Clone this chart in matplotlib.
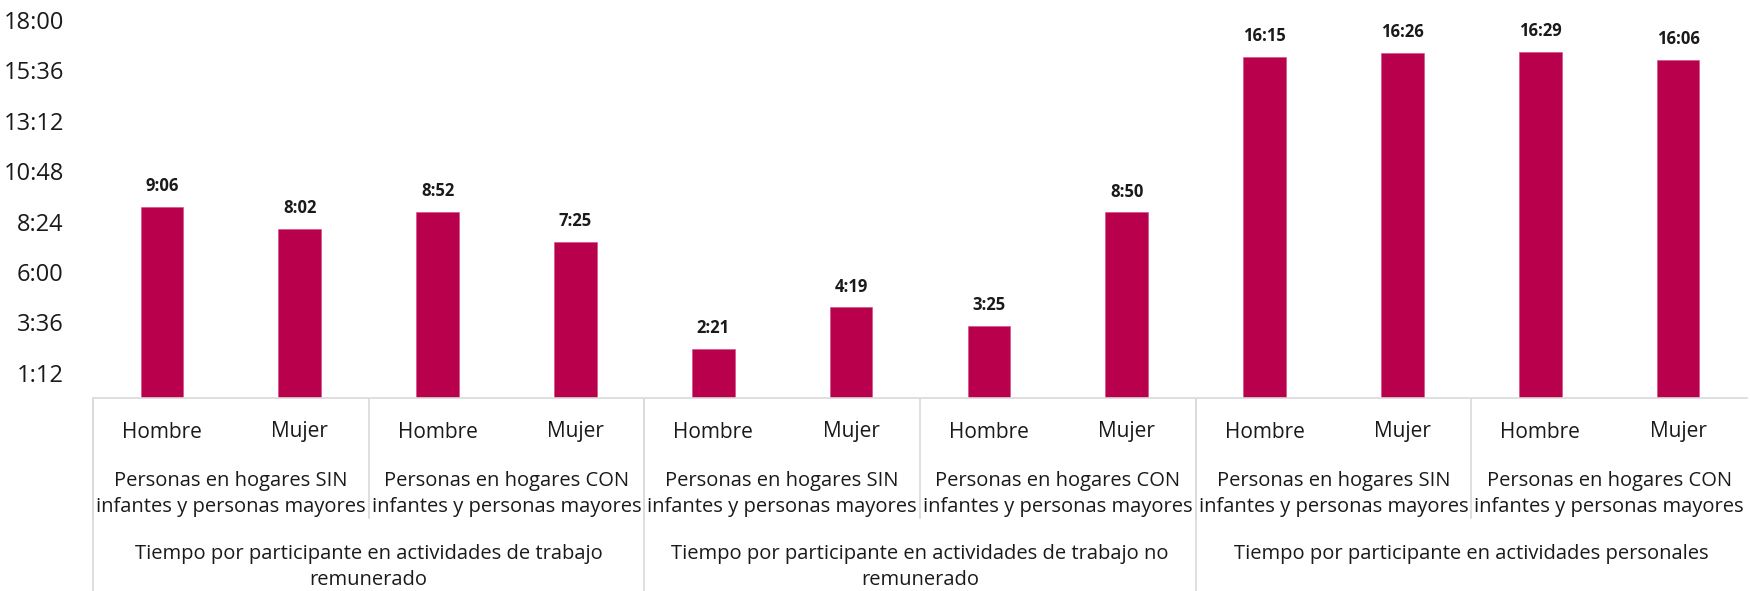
import matplotlib
matplotlib.use('Agg')
import matplotlib.pyplot as plt
from matplotlib.transforms import blended_transform_factory

plt.rcParams['font.family'] = ['Open Sans', 'DejaVu Sans']

# datos: tiempo por participante (h:mm)
sexos = ['Hombre', 'Mujer'] * 6
hogares = ['Personas en hogares SIN\ninfantes y personas mayores',
           'Personas en hogares CON\ninfantes y personas mayores'] * 3
actividades = ['Tiempo por participante en actividades de trabajo\nremunerado',
               'Tiempo por participante en actividades de trabajo no\nremunerado',
               'Tiempo por participante en actividades personales']
tiempos = ['9:06', '8:02', '8:52', '7:25',
           '2:21', '4:19', '3:25', '8:50',
           '16:15', '16:26', '16:29', '16:06']
ticks_min = [72, 216, 360, 504, 648, 792, 936, 1080]

BAR_COLOR = '#B8004C'
LINE_COLOR = '#D9D9D9'
TEXT_COLOR = '#1A1A1A'


def to_min(s):
    h, m = s.split(':')
    return int(h) * 60 + int(m)


def fmt(m):
    return f'{int(m) // 60}:{int(m) % 60:02d}'


minutos = [to_min(t) for t in tiempos]
x = list(range(len(minutos)))

fig = plt.figure(figsize=(17.5, 5.91), dpi=100)
ax = fig.add_axes([93 / 1750, (591 - 398) / 591, (1747 - 93) / 1750, 378 / 591])

bars = ax.bar(x, minutos, width=0.31, color=BAR_COLOR, edgecolor='#D04A80', linewidth=0.4)
for b, t in zip(bars, tiempos):
    ax.annotate(t, xy=(b.get_x() + b.get_width() / 2, b.get_height()),
                xytext=(0, 8.5), textcoords='offset points',
                ha='center', va='bottom', fontsize=12, fontweight='bold', color=TEXT_COLOR)

ax.set_xlim(-0.5, len(x) - 0.5)
ax.set_ylim(0, 1080)
ax.set_yticks(ticks_min)
ax.set_yticklabels([fmt(v) for v in ticks_min], fontsize=17, color=TEXT_COLOR)
ax.tick_params(axis='y', length=0, pad=21)
ax.set_xticks([])
for s in ['top', 'right', 'left']:
    ax.spines[s].set_visible(False)
ax.spines['bottom'].set_color(LINE_COLOR)
ax.spines['bottom'].set_linewidth(1.2)

# etiquetas jerárquicas del eje x
tr = blended_transform_factory(ax.transData, fig.transFigure)


def fy(p):
    return (591 - p) / 591


for xi, s in zip(x, sexos):
    ax.text(xi, fy(432), s, transform=tr, ha='center', va='center',
            fontsize=15, color=TEXT_COLOR)
for i, h in enumerate(hogares):
    ax.text(2 * i + 0.5, fy(471), h, transform=tr, ha='center', va='top',
            fontsize=14.5, color=TEXT_COLOR, linespacing=1.42)
    ax.plot([2 * i - 0.5, 2 * i - 0.5], [fy(399), fy(518)], transform=tr,
            color=LINE_COLOR, lw=1.2, clip_on=False)
for i, a in enumerate(actividades):
    ax.text(4 * i + 1.5, fy(544), a, transform=tr, ha='center', va='top',
            fontsize=14.5, color=TEXT_COLOR, linespacing=1.42)
    ax.plot([4 * i - 0.5, 4 * i - 0.5], [fy(399), 0], transform=tr,
            color=LINE_COLOR, lw=1.2, clip_on=False)

fig.savefig('out.png', dpi=100, facecolor='white')
